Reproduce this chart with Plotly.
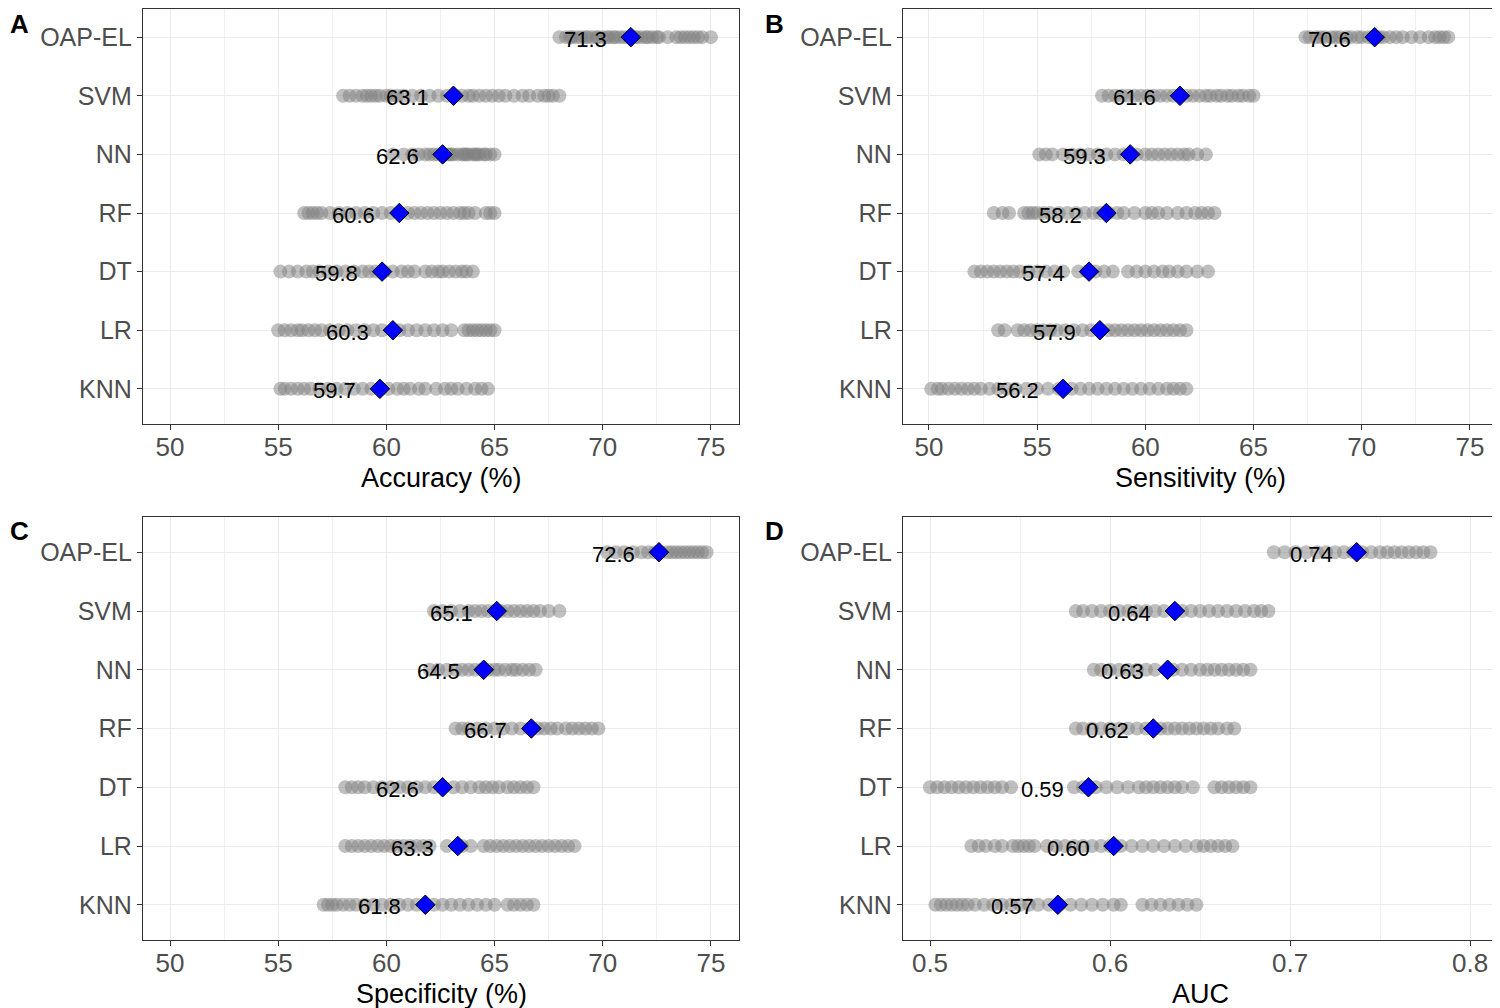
import plotly.graph_objects as go

# The page body has an 8px margin, so the figure is drawn 8px smaller and all
# pixel positions below are given in reference pixels minus OFF.
OFF = 8
W, H = 1500 - OFF, 1008 - OFF

models = ["OAP-EL", "SVM", "NN", "RF", "DT", "LR", "KNN"]

# ---------------- Accuracy (%) ----------------
acc_oap = [68.0, 68.3, 68.5, 68.6, 68.8, 69.0, 69.2, 69.3, 69.5, 69.7, 69.8, 70.0, 70.2, 70.3, 70.5, 70.6,
           70.8, 71.0, 71.2, 71.5, 71.6, 71.8, 72.0, 72.1, 72.3, 72.5, 72.6, 73.0, 73.4, 73.6, 73.8, 74.0,
           74.2, 74.4, 74.6, 75.0]
acc_svm = [58.0, 58.3, 58.6, 58.9, 59.1, 59.3, 59.5, 59.7, 60.0, 60.2, 60.5, 60.8, 61.2, 61.6, 62.0, 62.4,
           62.8, 63.2, 63.5, 63.8, 64.0, 64.3, 64.6, 64.9, 65.2, 65.5, 65.9, 66.3, 66.6, 67.0, 67.3, 67.5,
           67.7, 68.0]
acc_nn = [60.3, 60.8, 61.2, 61.5, 61.8, 62.0, 62.2, 62.4, 62.6, 62.8, 62.9, 63.0, 63.1, 63.3, 63.5, 63.6,
          63.7, 63.8, 64.0, 64.1, 64.2, 64.3, 64.5, 64.6, 64.8, 65.0]
acc_rf = [56.2, 56.4, 56.6, 56.8, 57.0, 57.4, 57.8, 58.2, 58.6, 59.0, 59.4, 59.8, 60.2, 60.6, 61.0, 61.3,
          61.6, 61.9, 62.2, 62.5, 62.8, 63.1, 63.4, 63.6, 63.8, 64.1, 64.6, 64.8, 65.0]
acc_dt = [55.1, 55.5, 55.9, 56.3, 56.6, 56.9, 57.3, 57.7, 58.1, 58.5, 58.9, 59.2, 59.5, 59.9, 60.3, 60.7,
          61.0, 61.3, 61.8, 62.1, 62.4, 62.6, 62.9, 63.2, 63.5, 63.7, 64.0]
acc_lr = [55.0, 55.3, 55.6, 55.9, 56.1, 56.4, 56.7, 57.0, 57.4, 57.8, 58.2, 58.6, 59.0, 59.4, 59.8, 60.6,
          61.0, 61.4, 61.8, 62.2, 62.6, 63.0, 63.6, 63.8, 64.0, 64.2, 64.4, 64.6, 64.8, 65.0]
acc_knn = [55.1, 55.3, 55.6, 55.9, 56.2, 56.5, 56.9, 57.3, 57.7, 58.1, 58.5, 58.9, 59.3, 59.7, 60.1, 60.5,
           60.8, 61.1, 61.5, 61.8, 62.3, 62.7, 63.0, 63.3, 63.7, 64.1, 64.4, 64.7]
acc_mean = [71.3, 63.1, 62.6, 60.6, 59.8, 60.3, 59.7]

# ---------------- Sensitivity (%) ----------------
sen_oap = [67.4, 67.6, 67.9, 68.1, 68.3, 68.6, 68.8, 69.0, 69.3, 69.5, 69.8, 70.0, 70.3, 70.5, 70.8, 71.0,
           71.3, 71.6, 71.9, 72.3, 72.7, 73.1, 73.4, 73.6, 73.8, 74.0]
sen_svm = [58.0, 58.3, 58.6, 58.9, 59.2, 59.5, 59.8, 60.1, 60.4, 60.7, 61.0, 61.3, 61.9, 62.2, 62.5, 62.8,
           63.0, 63.3, 63.5, 63.8, 64.0, 64.3, 64.5, 64.8, 65.0]
sen_nn = [55.1, 55.4, 55.7, 56.2, 56.6, 57.0, 57.4, 57.8, 58.2, 58.6, 59.0, 59.6, 60.0, 60.3, 60.6, 60.9,
          61.2, 61.5, 61.8, 62.0, 62.4, 62.8]
sen_rf = [53.0, 53.4, 53.7, 54.4, 54.6, 54.8, 55.0, 55.3, 55.6, 56.0, 56.4, 56.8, 57.2, 57.6, 57.9, 58.3,
          58.7, 59.0, 59.5, 60.0, 60.3, 60.6, 61.0, 61.5, 61.9, 62.3, 62.6, 62.9, 63.2]
sen_dt = [52.1, 52.4, 52.7, 53.0, 53.3, 53.6, 53.9, 54.2, 54.6, 55.0, 55.4, 55.8, 56.2, 56.9, 57.3, 57.7,
          58.1, 58.5, 59.2, 59.6, 60.0, 60.4, 60.8, 61.1, 61.5, 61.9, 62.4, 62.9]
sen_lr = [53.2, 53.5, 54.1, 54.4, 54.7, 55.0, 55.3, 55.6, 55.9, 56.3, 56.7, 57.1, 57.5, 57.9, 58.3, 58.6,
          58.9, 59.2, 59.5, 59.8, 60.1, 60.4, 60.7, 61.0, 61.3, 61.6, 61.9]
sen_knn = [50.1, 50.4, 50.6, 50.9, 51.2, 51.5, 51.8, 52.1, 52.4, 52.8, 53.2, 53.6, 54.0, 54.5, 55.0, 55.5,
           56.0, 56.6, 57.0, 57.4, 57.8, 58.2, 58.6, 59.0, 59.4, 59.8, 60.2, 60.6, 61.0, 61.3, 61.6, 61.9]
sen_mean = [70.6, 61.6, 59.3, 58.2, 57.4, 57.9, 56.2]

# ---------------- Specificity (%) ----------------
spe_oap = [70.2, 70.6, 71.0, 71.4, 71.8, 72.1, 72.4, 72.7, 73.0, 73.2, 73.4, 73.6, 73.8, 74.0, 74.2, 74.4,
           74.6, 74.8]
spe_svm = [62.2, 62.6, 63.0, 63.4, 63.8, 64.1, 64.4, 64.7, 65.0, 65.3, 65.6, 65.9, 66.2, 66.5, 66.8, 67.1,
           67.5, 68.0]
spe_nn = [62.0, 62.4, 62.8, 63.2, 63.5, 63.8, 64.1, 64.4, 64.7, 65.0, 65.2, 65.5, 65.8, 66.0, 66.3, 66.6,
          66.9]
spe_rf = [63.2, 63.5, 63.8, 64.2, 64.6, 65.0, 65.4, 65.8, 66.2, 66.6, 67.0, 67.3, 67.6, 67.9, 68.3, 68.6,
          68.9, 69.2, 69.5, 69.8]
spe_dt = [58.1, 58.4, 58.7, 59.0, 59.4, 59.8, 60.2, 60.6, 61.0, 61.4, 61.8, 62.2, 63.1, 63.5, 63.9, 64.3,
          64.6, 64.9, 65.2, 65.6, 65.9, 66.2, 66.5, 66.8]
spe_lr = [58.1, 58.4, 58.7, 59.0, 59.3, 59.6, 59.9, 60.2, 60.5, 60.8, 61.1, 61.4, 61.7, 62.0, 62.8, 63.5,
          63.9, 64.5, 64.8, 65.1, 65.4, 65.7, 66.0, 66.3, 66.6, 66.9, 67.2, 67.5, 67.8, 68.1, 68.4, 68.7]
spe_knn = [57.1, 57.3, 57.5, 57.7, 58.0, 58.3, 58.6, 59.0, 59.4, 59.8, 60.2, 60.6, 61.0, 61.4, 61.8, 62.2,
           62.6, 63.0, 63.4, 63.8, 64.2, 64.6, 65.0, 65.6, 65.9, 66.2, 66.5, 66.8]
spe_mean = [72.6, 65.1, 64.5, 66.7, 62.6, 63.3, 61.8]

# ---------------- AUC ----------------
auc_oap = [0.691, 0.697, 0.703, 0.709, 0.715, 0.720, 0.725, 0.730, 0.735, 0.740, 0.745, 0.750, 0.754,
           0.758, 0.762, 0.766, 0.770, 0.774, 0.778]
auc_svm = [0.581, 0.585, 0.590, 0.595, 0.600, 0.605, 0.610, 0.615, 0.620, 0.625, 0.630, 0.640, 0.645,
           0.650, 0.655, 0.660, 0.665, 0.670, 0.675, 0.680, 0.684, 0.688]
auc_nn = [0.591, 0.595, 0.600, 0.605, 0.610, 0.615, 0.620, 0.625, 0.635, 0.640, 0.645, 0.650, 0.654,
          0.658, 0.662, 0.666, 0.670, 0.674, 0.678]
auc_rf = [0.581, 0.585, 0.590, 0.595, 0.600, 0.605, 0.610, 0.615, 0.620, 0.628, 0.632, 0.636, 0.640,
          0.644, 0.648, 0.652, 0.656, 0.660, 0.665, 0.669]
auc_dt = [0.500, 0.504, 0.508, 0.512, 0.516, 0.520, 0.524, 0.528, 0.532, 0.536, 0.540, 0.545, 0.580,
          0.585, 0.592, 0.598, 0.604, 0.610, 0.616, 0.620, 0.624, 0.628, 0.632, 0.636, 0.640, 0.646,
          0.658, 0.662, 0.666, 0.670, 0.674, 0.678]
auc_lr = [0.523, 0.527, 0.531, 0.536, 0.540, 0.546, 0.549, 0.552, 0.555, 0.558, 0.565, 0.570, 0.575,
          0.580, 0.585, 0.590, 0.595, 0.600, 0.606, 0.612, 0.618, 0.624, 0.630, 0.636, 0.642, 0.648,
          0.652, 0.656, 0.660, 0.664, 0.668]
auc_knn = [0.503, 0.506, 0.509, 0.512, 0.515, 0.518, 0.521, 0.525, 0.530, 0.535, 0.540, 0.545, 0.550,
           0.555, 0.560, 0.566, 0.572, 0.578, 0.584, 0.590, 0.596, 0.602, 0.606, 0.618, 0.623, 0.628,
           0.633, 0.638, 0.643, 0.648]
auc_mean = [0.737, 0.636, 0.632, 0.624, 0.588, 0.602, 0.571]

panel_titles = ["Accuracy (%)", "Sensitivity (%)", "Specificity (%)", "AUC"]
panel_letters = ["A", "B", "C", "D"]
x_ticks_pct = [50, 55, 60, 65, 70, 75]
x_ticks_auc = [0.5, 0.6, 0.7, 0.8]

panels = [
    ([acc_oap, acc_svm, acc_nn, acc_rf, acc_dt, acc_lr, acc_knn], acc_mean, "{:.1f}"),
    ([sen_oap, sen_svm, sen_nn, sen_rf, sen_dt, sen_lr, sen_knn], sen_mean, "{:.1f}"),
    ([spe_oap, spe_svm, spe_nn, spe_rf, spe_dt, spe_lr, spe_knn], spe_mean, "{:.1f}"),
    ([auc_oap, auc_svm, auc_nn, auc_rf, auc_dt, auc_lr, auc_knn], auc_mean, "{:.2f}"),
]

# pixel layout of panels in reference coords (left, right, top, bottom)
boxes = [(143, 739, 2, 424), (903, 1498, 2, 424), (143, 739, 517, 940), (903, 1498, 517, 940)]
xranges = [[48.75, 76.3], [48.8, 76.3], [48.75, 76.3], [0.485, 0.8155]]
letter_x = [2, 763, 2, 763]

FONT = "Liberation Sans, Arial, sans-serif"
fig = go.Figure()
annotations = []


def px(v):
    return v - OFF


for i, ((rows, means, fmt), box, xr) in enumerate(zip(panels, boxes, xranges)):
    ax = "" if i == 0 else str(i + 1)
    xa, ya = "x" + ax, "y" + ax
    xs, ys = [], []
    for m, vals in zip(models, rows):
        xs += vals
        ys += [m] * len(vals)
    fig.add_trace(go.Scatter(
        x=xs, y=ys, mode="markers", xaxis=xa, yaxis=ya, showlegend=False, hoverinfo="skip",
        marker=dict(size=14, color="rgba(127,127,127,0.5)", line=dict(width=0))))
    fig.add_trace(go.Scatter(
        x=means, y=models, mode="markers", xaxis=xa, yaxis=ya, showlegend=False,
        marker=dict(symbol="diamond", size=15, color="#0000FF", line=dict(color="black", width=1))))
    for m, v in zip(models, means):
        annotations.append(dict(x=v, y=m, xref=xa, yref=ya, text=fmt.format(v), showarrow=False,
                                xanchor="right", yanchor="middle", xshift=-22, yshift=-2,
                                font=dict(family=FONT, size=22, color="black")))
    l, r, t0, b = [px(v) for v in box]
    # the category spacing follows the reference; clamp the top to the page
    step = (b - t0) / 7.2
    t = max(t0, 1)
    ytop = -0.6 + (t - t0) / step
    is_auc = (i == 3)
    ticks = x_ticks_auc if is_auc else x_ticks_pct
    xaxis = dict(
        domain=[l / W, r / W], range=xr, anchor=ya,
        tickmode="array", tickvals=ticks, ticktext=[("%g" % v) for v in ticks],
        showgrid=True, gridcolor="#EBEBEB", gridwidth=1.2,
        minor=dict(tickmode="array",
                   tickvals=[0.55, 0.65, 0.75] if is_auc else [52.5, 57.5, 62.5, 67.5, 72.5],
                   showgrid=True, gridcolor="#F0F0F0", gridwidth=1, ticks=""),
        zeroline=False, showline=True, linecolor="#333333", linewidth=1.3, mirror=True,
        ticks="outside", ticklen=5, tickcolor="#333333", tickwidth=1.2,
        ticklabelstandoff=-5,
        tickfont=dict(family=FONT, size=26, color="#4D4D4D"),
    )
    yaxis = dict(
        domain=[1 - b / H, 1 - t / H], anchor=xa, type="category",
        categoryorder="array", categoryarray=models, range=[6.6, ytop],
        showgrid=True, gridcolor="#EBEBEB", gridwidth=1.2, zeroline=False,
        showline=True, linecolor="#333333", linewidth=1.3, mirror=True,
        ticks="outside", ticklen=5, tickcolor="#333333", tickwidth=1.2,
        tickfont=dict(family=FONT, size=25, color="#4D4D4D"),
    )
    fig.update_layout(**{"xaxis" + ax: xaxis, "yaxis" + ax: yaxis})
    # axis title
    annotations.append(dict(x=(l + r) / 2 / W, y=1 - (b + 54) / H, xref="paper", yref="paper",
                            text=panel_titles[i], showarrow=False, xanchor="center", yanchor="middle",
                            font=dict(family=FONT, size=27, color="black")))
    # panel letter
    annotations.append(dict(x=max(px(letter_x[i]), 0) / W, y=1 - max(t0 + 14, 16) / H, xref="paper",
                            yref="paper", text="<b>%s</b>" % panel_letters[i], showarrow=False,
                            xanchor="left", yanchor="middle",
                            font=dict(family=FONT, size=26, color="black")))

fig.update_layout(
    width=W, height=H, margin=dict(l=0, r=0, t=0, b=0),
    paper_bgcolor="white", plot_bgcolor="white",
    annotations=annotations, font=dict(family=FONT),
)

fig.write_html("out.html")
